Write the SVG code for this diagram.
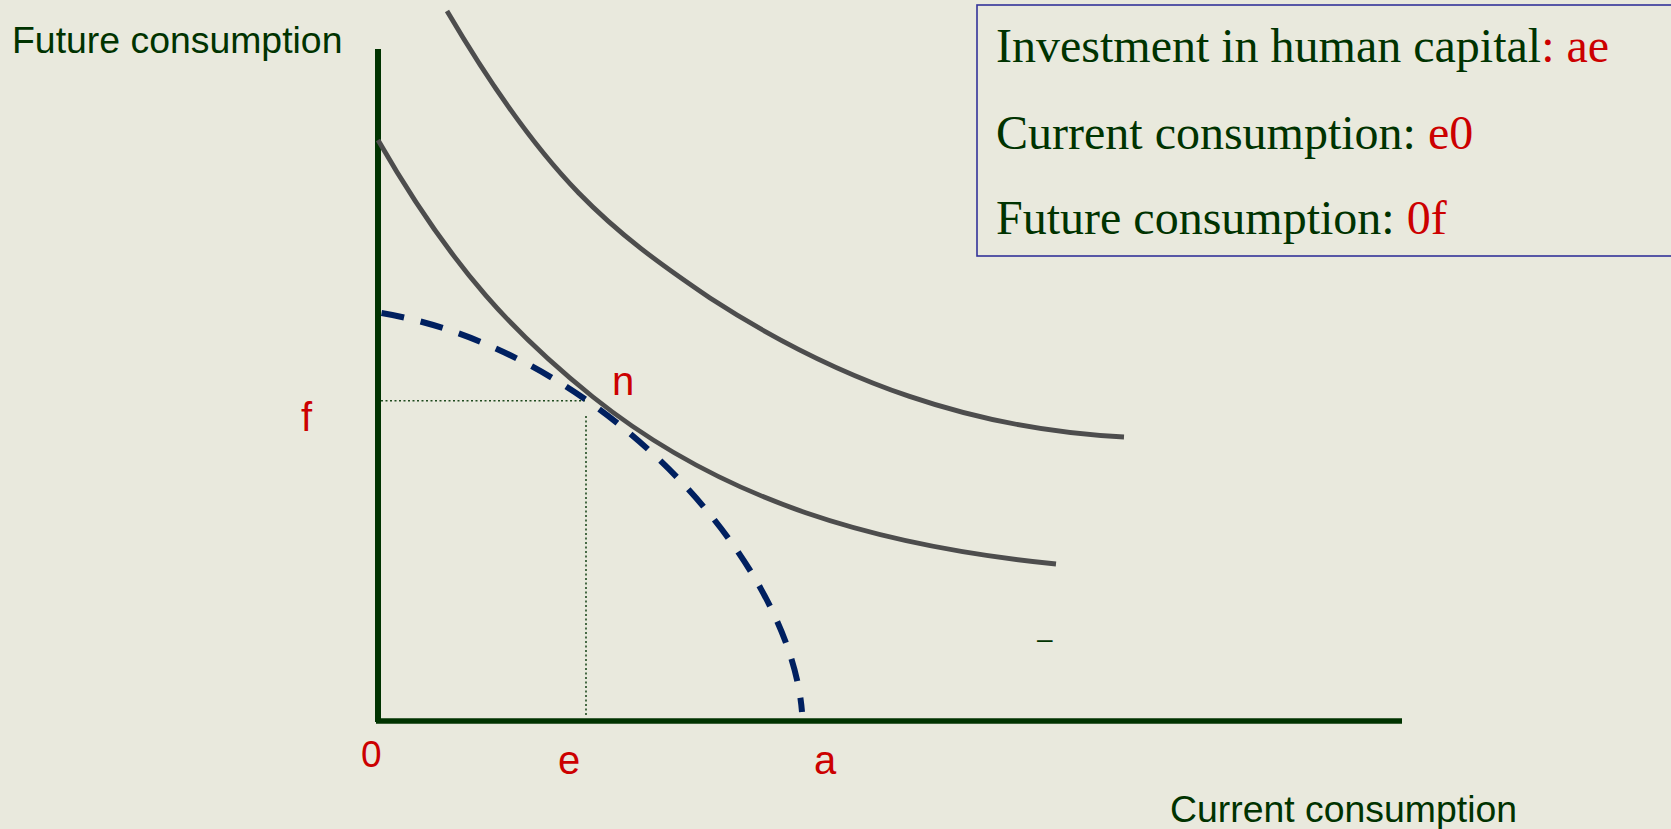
<svg xmlns="http://www.w3.org/2000/svg" width="1671" height="829" viewBox="0 0 1671 829">
  <style>
    .axis { stroke: #003300; fill: none; stroke-linecap: butt; }
    .ic { stroke: #4d4d4d; stroke-width: 4.8; fill: none; }
    .ppf { stroke: #002060; stroke-width: 6; fill: none; stroke-dasharray: 23 17; }
    .guide { stroke: #1f4a1f; stroke-width: 1.6; fill: none; stroke-dasharray: 2 2.5; }
    .sans { font-family: "Liberation Sans", Arial, sans-serif; }
    .serif { font-family: "Liberation Serif", "Times New Roman", serif; font-size: 48px; }
    .green { fill: #003300; }
    .red { fill: #cc0000; }
  </style>
  <rect x="0" y="0" width="1671" height="829" fill="#e9e9dd"/>

  <g id="axes">
    <line class="axis" x1="378" y1="49" x2="378" y2="722" stroke-width="6"/>
    <line class="axis" x1="376" y1="721" x2="1402" y2="721" stroke-width="5.6"/>
  </g>

  <g id="connectors">
    <path id="guide-f" class="guide" d="M381,400.7 H585"/>
    <path id="guide-e" class="guide" d="M586,416 V717"/>
    <path id="ppf" class="ppf" d="M381.5,313 C600,350 790,560 802,712"/>
    <path id="ic-low" class="ic" d="M378,140 C453,271 518,337 593,397 C723,501 876,546 1056,564"/>
    <path id="ic-high" class="ic" d="M447,11 C547,181 610,230 710,298 C840,382.5 974,429.5 1124,437"/>
  </g>

  <g id="axis-labels" class="sans green" font-size="37.4">
    <text id="y-title" x="12" y="52.5">Future consumption</text>
    <text id="x-title" x="1170" y="822">Current consumption</text>
  </g>

  <g id="point-labels" class="sans red" font-size="40">
    <text id="label-f" x="301" y="431">f</text>
    <text id="label-n" x="612" y="395">n</text>
    <text id="label-0" x="361" y="767" font-size="37">0</text>
    <text id="label-e" x="558" y="774">e</text>
    <text id="label-a" x="814" y="774">a</text>
  </g>

  <g id="dash-mark">
    <text class="sans green" x="1037" y="648" font-size="28">–</text>
  </g>

  <g id="legend">
    <rect x="977" y="5" width="700" height="251" fill="none" stroke="#333399" stroke-width="1.6"/>
    <text class="serif" x="996" y="62"><tspan class="green">Investment in human capital</tspan><tspan class="red">: ae</tspan></text>
    <text class="serif" x="996" y="149"><tspan class="green">Current consumption: </tspan><tspan class="red">e0</tspan></text>
    <text class="serif" x="996" y="234"><tspan class="green">Future consumption: </tspan><tspan class="red">0f</tspan></text>
  </g>
</svg>
